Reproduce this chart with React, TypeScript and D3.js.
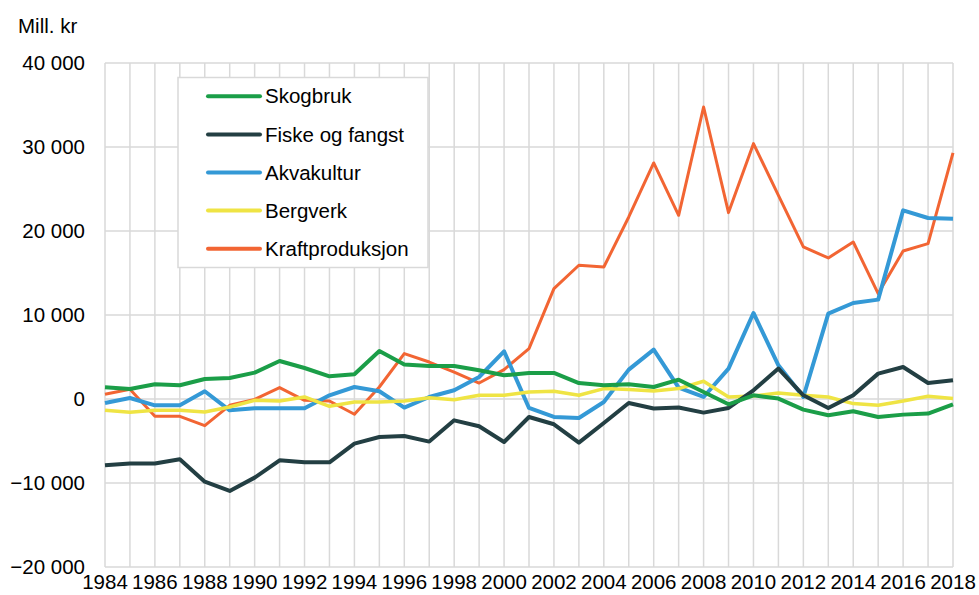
import React from "react";
import * as d3 from "d3";

const years = d3.range(1984, 2019);

const skogbruk = [1400, 1200, 1750, 1630, 2380, 2500, 3140, 4520, 3690, 2700, 2940, 5710, 4100, 3930, 3930, 3420, 2820, 3100, 3100, 1900, 1630, 1750, 1430, 2300, 830, -630, 440, 50, -1260, -1940, -1460, -2140, -1860, -1740, -630];
const fiske = [-7890, -7690, -7690, -7180, -9840, -10950, -9360, -7300, -7540, -7540, -5310, -4520, -4400, -5070, -2540, -3250, -5120, -2140, -3010, -5190, -2860, -480, -1140, -1020, -1620, -1070, 1040, 3620, 440, -1070, 440, 3020, 3810, 1900, 2230];
const akvakultur = [-480, 120, -750, -750, 920, -1350, -1110, -1110, -1110, 440, 1430, 920, -1020, 240, 1040, 2620, 5680, -1070, -2140, -2260, -360, 3500, 5880, 1360, 240, 3620, 10240, 4010, 240, 10160, 11430, 11830, 22460, 21550, 21470];
const bergverk = [-1350, -1590, -1350, -1350, -1550, -950, -160, -240, 240, -870, -360, -360, -240, 160, -80, 440, 440, 830, 920, 440, 1240, 1120, 950, 1240, 2110, 240, 360, 710, 440, 240, -550, -750, -240, 320, 50];
const kraft = [560, 1150, -2060, -2060, -3170, -750, -40, 1360, -160, -240, -1820, 1430, 5400, 4400, 3210, 1900, 3500, 6000, 13140, 15920, 15710, 21670, 28100, 21870, 34760, 22190, 30400, 24250, 18100, 16790, 18690, 12550, 17620, 18500, 29290];

const yTicks = [-20000, -10000, 0, 10000, 20000, 30000, 40000];
const xLabels = d3.range(1984, 2019, 2);

const series = [
  { name: "Skogbruk", values: skogbruk, color: "#1b9e48", width: 4 },
  { name: "Fiske og fangst", values: fiske, color: "#233f43", width: 4 },
  { name: "Akvakultur", values: akvakultur, color: "#3499d6", width: 4 },
  { name: "Bergverk", values: bergverk, color: "#efe444", width: 3.5 },
  { name: "Kraftproduksjon", values: kraft, color: "#f26533", width: 3 },
];

const W = 979;
const H = 595;
const left = 105;
const right = 953;
const top = 63;
const bottom = 567;

export default function App() {
  const x = d3.scaleLinear().domain([1984, 2018]).range([left, right]);
  const y = d3.scaleLinear().domain([-20000, 40000]).range([bottom, top]);
  const fmt = (v: number) => d3.format(",")(v).replace(/,/g, " ");
  const grid = "#d9d9d9";
  const font = "'Liberation Sans', Arial, sans-serif";
  const fs = 20.5;

  // legend order reversed-ish so green/dark lines sit on top like the original
  const drawOrder = [series[4], series[2], series[3], series[1], series[0]];

  return (
    <svg width={W} height={H} style={{ position: "absolute", left: 0, top: 0, display: "block" }} fontFamily={font}>
      <rect width={W} height={H} fill="#fff" />
      {years.map((yr) => (
        <line key={yr} x1={x(yr)} x2={x(yr)} y1={top} y2={bottom} stroke={grid} strokeWidth={1.5} />
      ))}
      {yTicks.map((t) => (
        <line key={t} x1={left} x2={right} y1={y(t)} y2={y(t)} stroke={grid} strokeWidth={1.5} />
      ))}
      {yTicks.map((t) => (
        <text key={t} x={85} y={y(t)} dy="0.35em" textAnchor="end" fontSize={fs} fill="#000">
          {fmt(t)}
        </text>
      ))}
      {xLabels.map((yr) => (
        <text key={yr} x={x(yr)} y={589} textAnchor="middle" fontSize={fs} fill="#000">
          {yr}
        </text>
      ))}
      <text x={18} y={33} fontSize={fs} fill="#000">Mill. kr</text>
      {drawOrder.map((s) => {
        const line = d3
          .line<number>()
          .x((_, i) => x(years[i]))
          .y((d) => y(d));
        return (
          <path key={s.name} d={line(s.values) || ""} fill="none" stroke={s.color} strokeWidth={s.width} strokeLinejoin="round" />
        );
      })}
      <rect x={178} y={77.5} width={250} height={190} fill="#fff" stroke={grid} strokeWidth={1.5} />
      {series.map((s, i) => {
        const ly = 96.3 + i * 38.1;
        return (
          <g key={s.name}>
            <line x1={208} x2={260} y1={ly} y2={ly} stroke={s.color} strokeWidth={4} strokeLinecap="round" />
            <text x={265} y={ly} dy="0.35em" fontSize={fs} fill="#000">{s.name}</text>
          </g>
        );
      })}
    </svg>
  );
}
